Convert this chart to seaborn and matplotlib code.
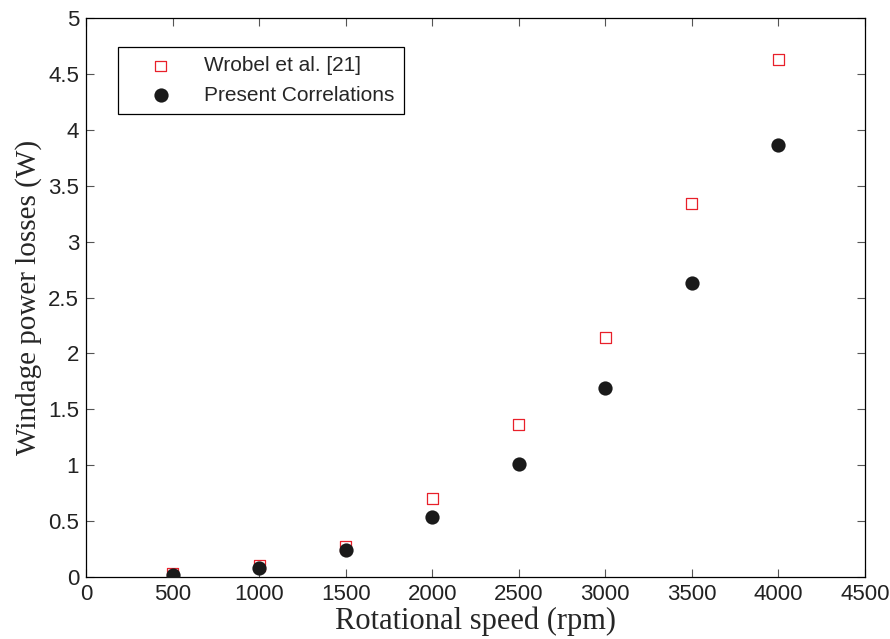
import pandas as pd
import matplotlib
matplotlib.use("Agg")
import matplotlib.pyplot as plt
import seaborn as sns

# data
speed = [500, 1000, 1500, 2000, 2500, 3000, 3500, 4000]
wrobel = [0.03, 0.10, 0.27, 0.70, 1.36, 2.14, 3.34, 4.63]
present = [0.02, 0.08, 0.24, 0.54, 1.01, 1.69, 2.63, 3.86]

x_ticks = list(range(0, 4501, 500))
y_ticks = [0, 0.5, 1, 1.5, 2, 2.5, 3, 3.5, 4, 4.5, 5]

sns.set_style("white")
plt.rcParams['font.family'] = ['Liberation Sans', 'DejaVu Sans']

df_w = pd.DataFrame({'speed': speed, 'loss': wrobel})
df_p = pd.DataFrame({'speed': speed, 'loss': present})

fig = plt.figure(figsize=(8.9, 6.39), dpi=100)
ax = fig.add_axes([86 / 890, 62 / 639, 779 / 890, 559 / 639])

sns.scatterplot(data=df_w, x='speed', y='loss', ax=ax, marker='s', s=62,
                facecolor='none', edgecolor='#e8202a', linewidth=0.9,
                label='Wrobel et al. [21]', zorder=3)
sns.scatterplot(data=df_p, x='speed', y='loss', ax=ax, marker='o', s=105,
                color='#1a1a1a', edgecolor='#1a1a1a', linewidth=0,
                label='Present Correlations', zorder=4)

ax.set_xlim(0, 4500)
ax.set_ylim(0, 5)
ax.set_xticks(x_ticks)
ax.set_xticklabels([str(v) for v in x_ticks])
ax.set_yticks(y_ticks)
ax.set_yticklabels(['0', '0.5', '1', '1.5', '2', '2.5', '3', '3.5', '4', '4.5', '5'])
ax.tick_params(direction='in', length=6, width=0.8, color='#555555',
               labelsize=16, labelcolor='#222222', top=True, right=True,
               bottom=True, left=True, pad=5)
for sp in ax.spines.values():
    sp.set_color('black')
    sp.set_linewidth(0.9)

ax.set_xlabel('Rotational speed (rpm)', family=['Liberation Serif'], fontsize=22,
              labelpad=1)
ax.set_ylabel('Windage power losses (W)', family=['Liberation Serif'], fontsize=21,
              labelpad=4)

leg = ax.legend(loc='upper left', bbox_to_anchor=(0.041, 0.948), borderaxespad=0,
                prop={'family': 'Liberation Sans', 'size': 15}, frameon=True,
                fancybox=False, edgecolor='black', framealpha=1,
                handletextpad=0.5, borderpad=0.45, labelspacing=0.5,
                handlelength=3.2)
leg.get_frame().set_linewidth(0.9)

fig.savefig('out.png', dpi=100)
